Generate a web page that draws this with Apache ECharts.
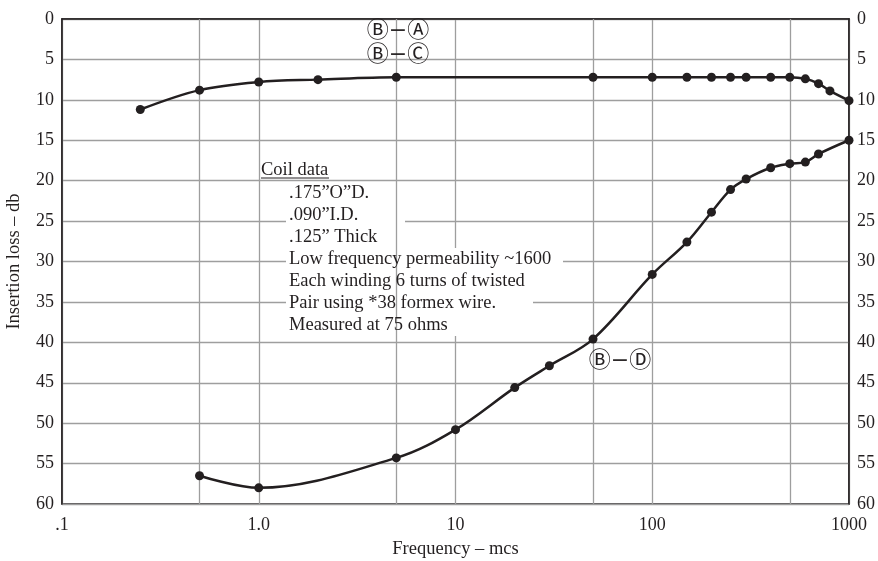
<!DOCTYPE html>
<html>
<head>
<meta charset="utf-8">
<script src="https://cdn.jsdelivr.net/npm/echarts@6/dist/echarts.min.js"></script>
<style>
html, body { margin: 0; padding: 0; background: #fff; }
#chart { width: 878px; height: 561px; }
</style>
</head>
<body>
<div id="chart"></div>
<script>
// B-A / B-C curve
var topFreq = [0.25, 0.5, 1, 2, 5, 50, 100, 150, 200, 250, 300, 400, 500, 600, 700, 800, 1000];
var topLoss = [11.2, 8.8, 7.8, 7.5, 7.2, 7.2, 7.2, 7.2, 7.2, 7.2, 7.2, 7.2, 7.2, 7.4, 8.0, 8.9, 10.1];

// B-D curve
var botFreq = [0.5, 1, 5, 10, 20, 30, 50, 100, 150, 200, 250, 300, 400, 500, 600, 700, 1000];
var botLoss = [56.5, 58.0, 54.3, 50.8, 45.6, 42.9, 39.6, 31.6, 27.6, 23.9, 21.1, 19.8, 18.4, 17.9, 17.7, 16.7, 15.0];

// x tick labels (one per decade) and the extra vertical grid lines
var xTickText = ['.1', '1.0', '10', '100', '1000'];
var extraGrid = [0.5, 5, 50, 500];

var coilLines = [
    '.175\u201dO\u201dD.',
    '.090\u201dI.D.',
    '.125\u201d Thick',
    'Low frequency permeability ~1600',
    'Each winding 6 turns of twisted',
    'Pair using *38 formex wire.',
    'Measured at 75 ohms'
];

var serif = "'Liberation Serif', 'Times New Roman', serif";
var circFont = "'DejaVu Serif', 'DejaVu Sans', 'Noto Sans CJK JP', serif";
var ink = '#231f20';
var gridGrey = '#9e9e9e';

function pairs(xs, ys) {
    var out = [];
    for (var i = 0; i < xs.length; i++) {
        out.push([xs[i], ys[i]]);
    }
    return out;
}

var myChart = echarts.init(document.getElementById('chart'));

// white patches behind each text line (right edge in px), so grid lines break there
var patchRight = [384, 405, 387, 563, 535, 533, 458];
var graphics = [];
graphics.push({
    type: 'text', z: 6,
    style: { text: 'Coil data', x: 261, y: 170, font: '18.5px ' + serif, fill: ink, verticalAlign: 'middle' }
});
graphics.push({
    type: 'line', z: 6,
    shape: { x1: 261, y1: 178, x2: 329, y2: 178 },
    style: { stroke: ink, lineWidth: 1 }
});
for (var i = 0; i < coilLines.length; i++) {
    var cy = 193 + i * 22;
    graphics.push({
        type: 'rect', z: 5,
        shape: { x: 286, y: cy - 11, width: patchRight[i] - 286, height: 22 },
        style: { fill: '#fff' }
    });
    graphics.push({
        type: 'text', z: 6,
        style: {
            text: coilLines[i], x: 289, y: cy, font: '18.5px ' + serif, fill: ink,
            verticalAlign: 'middle'
        }
    });
}
var circLabels = [
    { text: '\u24b7\u2212\u24b6', x: 398, y: 31 },
    { text: '\u24b7\u2212\u24b8', x: 398, y: 55 },
    { text: '\u24b7\u2212\u24b9', x: 620, y: 361 }
];
circLabels.forEach(function (c) {
    graphics.push({
        type: 'text', z: 6,
        style: { text: c.text, x: c.x, y: c.y, font: '22px ' + circFont, fill: ink, align: 'center', verticalAlign: 'middle' }
    });
});

var yAxisCommon = {
    type: 'value',
    inverse: true,
    min: 0,
    max: 60,
    interval: 5,
    axisTick: { show: false },
    axisLine: { show: true, lineStyle: { color: ink, width: 1.5 } },
    axisLabel: { color: ink, fontFamily: serif, fontSize: 18, margin: 8 }
};

var option = {
    animation: false,
    backgroundColor: '#fff',
    grid: {
        left: 62, right: 29, top: 19, bottom: 57,
        outerBoundsMode: 'none',
        containLabel: false,
        show: true,
        borderColor: ink,
        borderWidth: 1.5
    },
    xAxis: {
        type: 'log',
        logBase: 10,
        min: 0.1,
        max: 1000,
        name: 'Frequency \u2013 mcs',
        nameLocation: 'middle',
        nameGap: 36,
        nameTextStyle: { color: ink, fontFamily: serif, fontSize: 18.5 },
        axisTick: { show: false },
        axisLine: { lineStyle: { color: ink, width: 1.5 } },
        axisLabel: {
            color: ink, fontFamily: serif, fontSize: 18, margin: 12,
            formatter: function (v) {
                return xTickText[Math.round(Math.log10(v)) + 1];
            }
        },
        splitLine: { show: true, lineStyle: { color: gridGrey, width: 1.3 } }
    },
    yAxis: [
        Object.assign({}, yAxisCommon, {
            position: 'left',
            name: 'Insertion loss \u2013 db',
            nameLocation: 'middle',
            nameGap: 38,
            nameTextStyle: { color: ink, fontFamily: serif, fontSize: 18.5 },
            splitLine: { show: true, lineStyle: { color: gridGrey, width: 1.3 } }
        }),
        Object.assign({}, yAxisCommon, {
            position: 'right',
            splitLine: { show: false }
        })
    ],
    graphic: graphics,
    series: [
        {
            // extra vertical grid lines at 0.5, 5, 50, 500
            type: 'line',
            z: 1,
            data: [],
            markLine: {
                silent: true,
                symbol: 'none',
                label: { show: false },
                lineStyle: { color: gridGrey, width: 1.3, type: 'solid' },
                data: extraGrid.map(function (v) { return { xAxis: v }; })
            }
        },
        {
            name: 'B-A / B-C',
            type: 'line',
            z: 10,
            smooth: 0.35,
            symbol: 'circle',
            symbolSize: 9,
            itemStyle: { color: ink },
            lineStyle: { color: ink, width: 2.5 },
            data: pairs(topFreq, topLoss)
        },
        {
            name: 'B-D',
            type: 'line',
            z: 10,
            smooth: 0.35,
            symbol: 'circle',
            symbolSize: 9,
            itemStyle: { color: ink },
            lineStyle: { color: ink, width: 2.5 },
            data: pairs(botFreq, botLoss)
        }
    ]
};

myChart.setOption(option);
</script>
</body>
</html>
